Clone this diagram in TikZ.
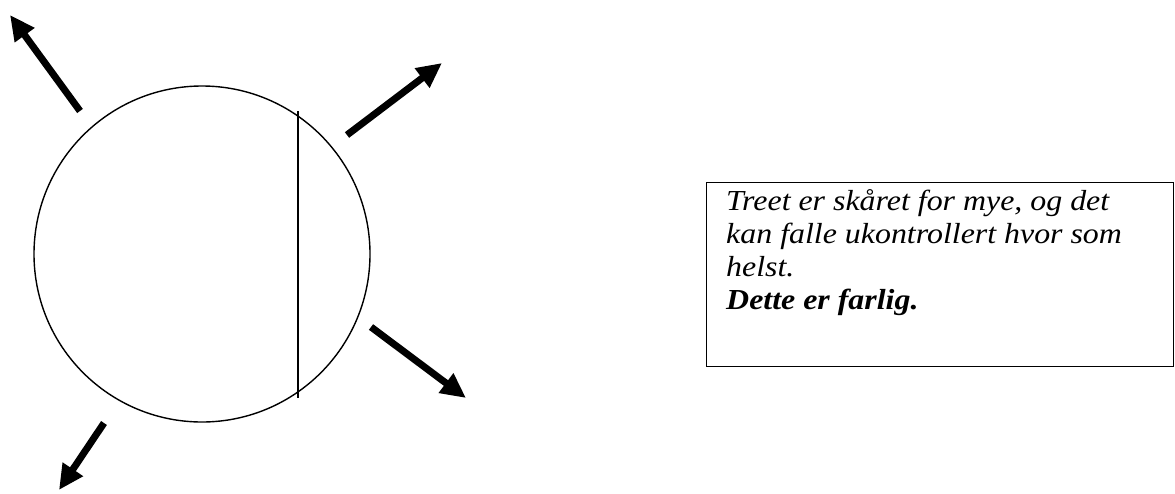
\documentclass[tikz,border=0pt]{standalone}
\usepackage{fontspec}
\setmainfont{Liberation Serif}
\usetikzlibrary{arrows.meta}

\begin{document}
\begin{tikzpicture}[x=1pt,y=-1pt,>={Triangle[length=25pt,width=23pt]},
  big arrow/.style={->,line width=7pt},
  thin line/.style={line width=1.4pt},
  msg text/.style={align=left,inner sep=0pt,xscale=1.1,font=\fontsize{29pt}{33pt}\selectfont\itshape}]

            \useasboundingbox (0,0) rectangle (1175,493);

            % tree seen from above, with the cut
            \node[circle, draw, thin line, minimum size=336pt, inner sep=0pt] (tree) at (202,254) {};
            \coordinate (cut top) at (298,111);
            \coordinate (cut bottom) at (298,398);
            \draw[thin line] (cut top) -- (cut bottom);

            % directions it can fall
            \coordinate (tail 1) at (80,111);
            \coordinate (tip 1) at (10,15);
            \coordinate (tail 2) at (347,135);
            \coordinate (tip 2) at (442,63);
            \coordinate (tail 3) at (371,327);
            \coordinate (tip 3) at (466,398);
            \coordinate (tail 4) at (104,423);
            \coordinate (tip 4) at (59,490);

            \draw[big arrow] (tail 1) to (tip 1);
            \draw[big arrow] (tail 2) to (tip 2);
            \draw[big arrow] (tail 3) to (tip 3);
            \draw[big arrow] (tail 4) to (tip 4);

            % text box
            \node[draw, thin line, minimum width=467pt, minimum height=184pt, inner sep=0pt, anchor=north west] (box) at (706,182) {};
            \node[msg text, anchor=north west] (msg) at ([xshift=20pt,yshift=-7pt]box.north west)
                {Treet er skåret for mye, og det\\kan falle ukontrollert hvor som\\helst.\\\textbf{Dette er farlig.}};

            ;
        \end{tikzpicture}
\end{document}
